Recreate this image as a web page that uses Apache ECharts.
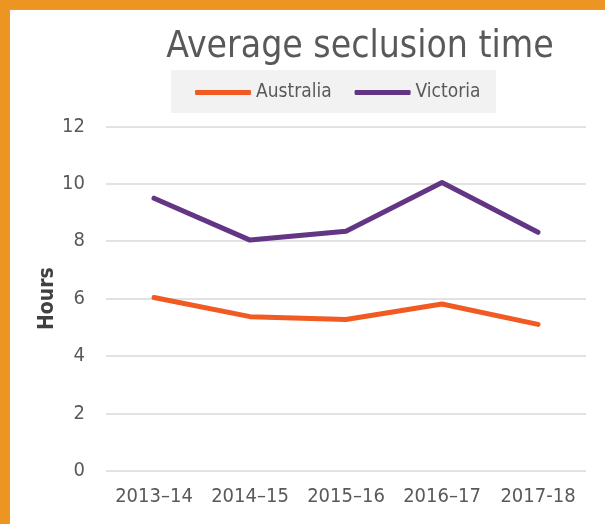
<!DOCTYPE html>
<html>
<head>
<meta charset="utf-8">
<script src="https://cdn.jsdelivr.net/npm/echarts@6/dist/echarts.min.js"></script>
<style>
  html, body { margin: 0; padding: 0; background: #fff; }
  #chart { width: 605px; height: 524px; }
</style>
</head>
<body>
<div id="chart"></div>
<script>
const years = ['2013–14', '2014–15', '2015–16', '2016–17', '2017-18'];
const australia = [6.04, 5.37, 5.27, 5.81, 5.10];
const victoria = [9.50, 8.04, 8.35, 10.05, 8.31];

const font = '"DejaVu Sans Condensed", "Liberation Sans", sans-serif';
const orange = '#EC9523';

const chart = echarts.init(document.getElementById('chart'));
chart.setOption({
  animation: false,
  backgroundColor: '#fff',
  graphic: [
    // frame: orange on left and top with a thin grey inner edge
    { type: 'rect', shape: { x: 0, y: 0, width: 605, height: 9 }, style: { fill: orange } },
    { type: 'rect', shape: { x: 0, y: 0, width: 9, height: 524 }, style: { fill: orange } },
    { type: 'rect', shape: { x: 9, y: 9, width: 596, height: 1 }, style: { fill: '#A6A6A6' } },
    { type: 'rect', shape: { x: 9, y: 9, width: 1, height: 515 }, style: { fill: '#A6A6A6' } },
    // legend panel
    { type: 'rect', z: -1, shape: { x: 171, y: 70, width: 325, height: 43 }, style: { fill: '#F2F2F2' } }
  ],
  title: {
    text: 'Average seclusion time',
    left: 360,
    top: 29,
    padding: 0,
    textAlign: 'center',
    textStyle: { fontFamily: font, fontSize: 37, fontWeight: 'normal', color: '#595959' }
  },
  legend: {
    left: 195,
    top: 83,
    padding: 0,
    itemWidth: 56,
    itemHeight: 5,
    itemGap: 23,
    icon: 'roundRect',
    textStyle: { fontFamily: font, fontSize: 19, color: '#595959' },
    data: ['Australia', 'Victoria']
  },
  grid: { left: 106, right: 19, top: 126.5, bottom: 53.3, containLabel: false },
  xAxis: {
    type: 'category',
    data: years,
    boundaryGap: true,
    axisLine: { show: false },
    axisTick: { show: false },
    axisLabel: { fontFamily: font, fontSize: 20, color: '#595959', margin: 16, interval: 0 }
  },
  yAxis: {
    type: 'value',
    min: 0,
    max: 12,
    interval: 2,
    name: 'Hours',
    nameLocation: 'middle',
    nameGap: 48,
    nameMoveOverlap: false,
    nameTextStyle: { fontFamily: font, fontSize: 21, fontWeight: 'bold', color: '#404040' },
    axisLabel: { fontFamily: font, fontSize: 20, color: '#595959', margin: 21 },
    splitLine: { lineStyle: { color: '#D9D9D9', width: 1.5 } }
  },
  series: [
    {
      name: 'Australia',
      type: 'line',
      data: australia,
      symbol: 'none',
      color: '#F15A22',
      lineStyle: { width: 5, cap: 'round', join: 'round' }
    },
    {
      name: 'Victoria',
      type: 'line',
      data: victoria,
      symbol: 'none',
      color: '#623685',
      lineStyle: { width: 5, cap: 'round', join: 'round' }
    }
  ]
});
</script>
</body>
</html>
